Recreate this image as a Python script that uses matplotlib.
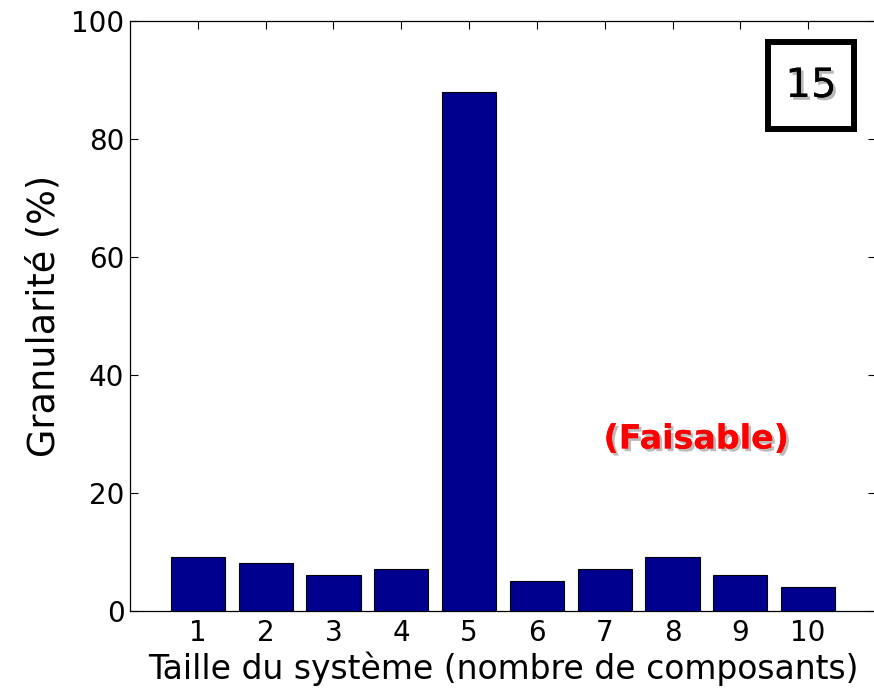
import matplotlib
matplotlib.use("Agg")
import matplotlib.pyplot as plt
import matplotlib.patheffects as pe
from matplotlib.patches import Rectangle

sizes = [1, 2, 3, 4, 5, 6, 7, 8, 9, 10]
granularity = [9, 8, 6, 7, 88, 5, 7, 9, 6, 4]
yticks = [0, 20, 40, 60, 80, 100]
xlabel = "Taille du système (nombre de composants)"
ylabel = "Granularité (%)"
panel_label = "15"
note = "(Faisable)"

plt.rcParams['font.family'] = ['DejaVu Sans']

W, H = 874, 699
fig = plt.figure(figsize=(W / 100, H / 100), dpi=100)
ax = fig.add_axes([130 / W, 1 - 610.5 / H, 746 / W, 589.5 / H])

ax.bar(sizes, granularity, width=0.8, color='#00008F', edgecolor='black',
       linewidth=0.8, zorder=3)
ax.set_xlim(0, 11)
ax.set_ylim(0, 100)
ax.set_xticks(sizes)
ax.set_yticks(yticks)
ax.tick_params(direction='in', top=True, right=True, length=5.5, width=0.8,
               labelsize=20)
ax.tick_params(axis='x', pad=6)
ax.tick_params(axis='y', pad=4)
for s in ax.spines.values():
    s.set_linewidth(0.9)

ax.set_xlabel(xlabel, fontsize=23.8, labelpad=3)
ax.set_ylabel(ylabel, fontsize=26.4, labelpad=6)

# panel number box
box = Rectangle(((768 - 130) / 746, (610.5 - 129) / 589.5),
                (854 - 768) / 746, (129 - 42) / 589.5,
                transform=ax.transAxes, fill=False, edgecolor='black',
                linewidth=4.3, zorder=5)
ax.add_patch(box)
ax.text((811 - 130) / 746, (610.5 - 86) / 589.5, panel_label, transform=ax.transAxes,
        ha='center', va='center', fontsize=29, color='black', zorder=6,
        path_effects=[pe.withSimplePatchShadow(offset=(2, -2), shadow_rgbFace='#999999', alpha=0.7),
                      pe.Normal()])

ax.text(8.35, 29.1, note, ha='center', va='center', fontsize=24, fontweight='bold',
        color='#FF0000', zorder=6,
        path_effects=[pe.withSimplePatchShadow(offset=(2, -2), shadow_rgbFace='#AAAAAA', alpha=0.8),
                      pe.Normal()])

fig.savefig("out.png", dpi=100)
